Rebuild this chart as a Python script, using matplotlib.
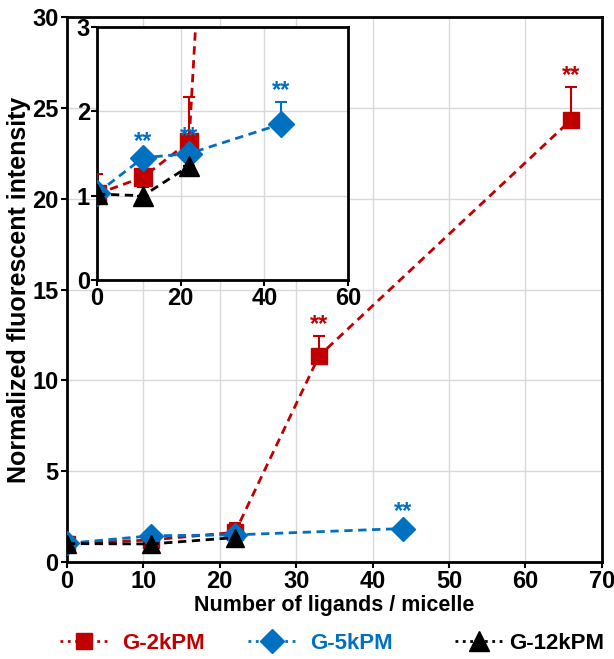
import numpy as np
import matplotlib.pyplot as plt

plt.rcParams['font.family'] = ['Liberation Sans', 'DejaVu Sans']
plt.rcParams['font.weight'] = 'bold'
plt.rcParams['axes.labelweight'] = 'bold'

RED = '#C00000'
BLUE = '#0070C0'

x2k = [0, 11, 22, 33, 66]
y2k = [1.02, 1.22, 1.64, 11.35, 24.35]
e2k = [0.24, 0.0, 0.53, 1.1, 1.8]

x5k = [0, 11, 22, 44]
y5k = [1.03, 1.45, 1.50, 1.85]
e5k = [0.0, 0.0, 0.0, 0.26]

x12k = [0, 11, 22]
y12k = [1.02, 1.0, 1.35]
e12k = [0.0, 0.1, 0.0]

labels = ['G-2kPM', 'G-5kPM', 'G-12kPM']

# points marked "**" in each panel
stars_main = [(33, 11.35 + 1.1, RED), (66, 24.35 + 1.8, RED), (44, 1.85 + 0.3, BLUE)]
stars_inset = [(11, 1.45 + 0.06, BLUE), (22, 1.50 + 0.06, BLUE), (44, 1.85 + 0.26, BLUE)]

fig = plt.figure(figsize=(6.14, 6.59), dpi=100)
ax = fig.add_axes([0.109, 0.147, 0.871, 0.827])
ins = fig.add_axes([0.158, 0.575, 0.409, 0.384])


def draw(a, ms, stars):
    series = [
        (x2k, y2k, e2k, RED, 's', ms),
        (x5k, y5k, e5k, BLUE, 'D', ms),
        (x12k, y12k, e12k, 'black', '^', ms + 1),
    ]
    for xs, ys, es, c, m, size in series:
        a.errorbar(xs, ys, yerr=[np.zeros(len(es)), es], fmt='none', ecolor=c,
                   elinewidth=1.5, capsize=4, capthick=1.5, zorder=3)
        a.plot(xs, ys, linestyle='--', color=c, lw=2, marker=m, ms=size,
               markeredgecolor=c, zorder=4, dashes=(3, 2))
    for xi, yi, c in stars:
        a.text(xi, yi, '**', color=c, ha='center', va='bottom',
               fontsize=17, fontweight='bold', zorder=5)


# main
draw(ax, 12, stars_main)
ax.set_xlim(0, 70)
ax.set_ylim(0, 30)
ax.set_xticks(range(0, 71, 10))
ax.set_yticks(range(0, 31, 5))
ax.grid(True, color='#d9d9d9', lw=1)
ax.set_axisbelow(True)
for s in ax.spines.values():
    s.set_linewidth(2)
ax.tick_params(labelsize=17, width=1.5, length=4, direction='out', pad=2)
ax.set_xlabel('Number of ligands / micelle', fontsize=15.5, fontweight='bold', labelpad=1)
ax.set_ylabel('Normalized fluorescent intensity', fontsize=18, fontweight='bold', labelpad=1)

# inset
draw(ins, 13, stars_inset)
ins.set_xlim(0, 60)
ins.set_ylim(0, 3)
ins.set_xticks([0, 20, 40, 60])
ins.set_yticks([0, 1, 2, 3])
ins.grid(True, color='#d9d9d9', lw=1)
ins.set_axisbelow(True)
for s in ins.spines.values():
    s.set_linewidth(2)
ins.tick_params(labelsize=17, width=1.5, length=4, direction='out', pad=1)

# legend: one entry each, placed like the original
handles = [
    plt.Line2D([], [], color=RED, ls=':', lw=2, marker='s', ms=11),
    plt.Line2D([], [], color=BLUE, ls=':', lw=2, marker='D', ms=12),
    plt.Line2D([], [], color='black', ls=':', lw=2, marker='^', ms=14),
]
xpos = [0.098, 0.404, 0.741]
pads = [0.63, 0.65, 0.27]
for h, lab, c, xp, pd in zip(handles, labels, [RED, BLUE, 'black'], xpos, pads):
    leg = fig.legend([h], [lab], loc='center left', bbox_to_anchor=(xp, 0.024),
                     frameon=False, prop={'size': 16, 'weight': 'bold'},
                     handlelength=2.16, handletextpad=pd, borderpad=0,
                     borderaxespad=0)
    leg.get_texts()[0].set_color(c)

fig.savefig('out.png', dpi=100)
